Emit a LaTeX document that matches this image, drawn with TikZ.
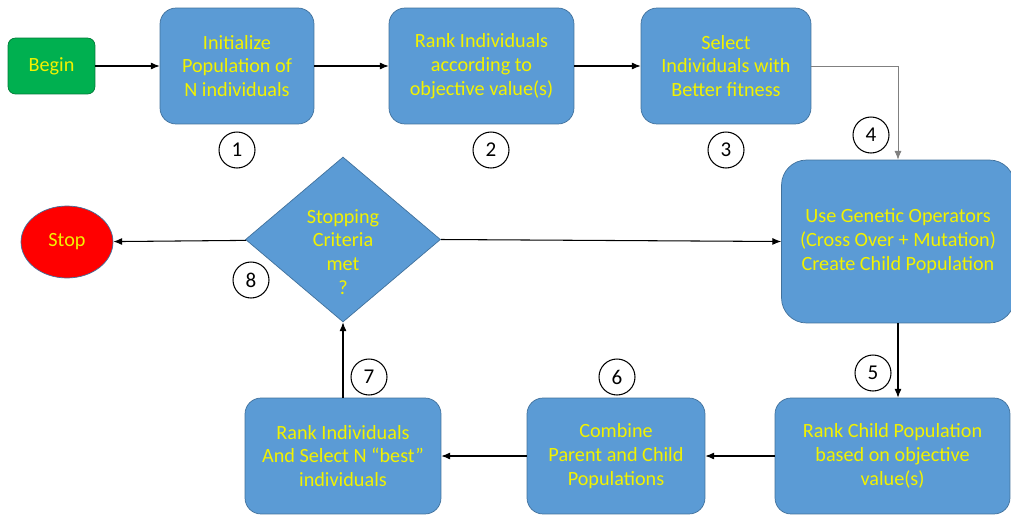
\documentclass[tikz,border=0pt]{standalone}
\usepackage{fontspec}
\setmainfont{Carlito}
\usetikzlibrary{shapes.geometric,arrows.meta}
\definecolor{boxblue}{HTML}{5B9BD5}
\definecolor{edgeblue}{HTML}{41719C}
\definecolor{startgreen}{HTML}{00B050}
\definecolor{txtyellow}{HTML}{F2F200}
\tikzset{
    stepbox/.style={draw=edgeblue, fill=boxblue, rounded corners=0.32cm, align=center,
        text=txtyellow, inner sep=0pt, font=\fontsize{11.5}{13.6}\selectfont},
    numcircle/.style={draw, line width=0.6pt, circle, minimum size=0.72cm, inner sep=0pt,
        font=\fontsize{12}{13}\selectfont},
    flow/.style={-{Latex[length=5pt,width=4pt]}, semithick}
}

\begin{document}
\begin{tikzpicture}[x=0.02cm, y=-0.02cm]
    \clip (0,0) rectangle (1011,514);
    \useasboundingbox (0,0) rectangle (1011,514);

    \node[stepbox, fill=startgreen, draw=startgreen!70!black, rounded corners=0.15cm,
        minimum width=1.74cm, minimum height=1.12cm] (begin) at (51.5,66) {Begin};
    \node[stepbox, minimum width=3.08cm, minimum height=2.32cm] (init) at (237,66)
        {Initialize\\Population of\\N individuals};
    \node[stepbox, minimum width=3.70cm, minimum height=2.32cm] (rank) at (481.5,66)
        {Rank Individuals\\according to\\objective value(s)};
    \node[stepbox, minimum width=3.40cm, minimum height=2.32cm] (select) at (726,66)
        {Select\\Individuals with\\Better fitness};
    \node[stepbox, rounded corners=0.5cm, minimum width=4.66cm, minimum height=3.26cm] (genop) at (898,241.5)
        {Use Genetic Operators\\(Cross Over + Mutation)\\Create Child Population};
    \node[stepbox, minimum width=4.70cm, minimum height=2.32cm] (rankchild) at (892.5,456)
        {Rank Child Population\\based on objective\\value(s)};
    \node[stepbox, minimum width=3.56cm, minimum height=2.32cm] (combine) at (616,456)
        {Combine\\Parent and Child\\Populations};
    \node[stepbox, minimum width=3.92cm, minimum height=2.32cm] (rankbest) at (343,456)
        {Rank Individuals\\And Select N ``best''\\individuals};
    \node[stepbox, diamond, rounded corners=0pt, minimum width=3.90cm, minimum height=3.30cm,
        aspect=1.18] (check) at (343,239.5) {};
    \node[stepbox, draw=none, fill=none] (checktext) at (343,252) {Stopping\\Criteria\\met\\?};
    \node[stepbox, ellipse, fill=red, rounded corners=0pt, minimum width=1.84cm,
        minimum height=1.44cm] (stop) at (67,242) {Stop};

    \node[numcircle] (n1) at (237,150) {1};
    \node[numcircle] (n2) at (491,150) {2};
    \node[numcircle] (n3) at (726,150) {3};
    \node[numcircle] (n4) at (871,135) {4};
    \node[numcircle] (n5) at (873,373) {5};
    \node[numcircle] (n6) at (617,377) {6};
    \node[numcircle] (n7) at (369,377) {7};
    \node[numcircle] (n8) at (251,280) {8};

    \draw[flow] (begin) -- (init);
    \draw[flow] (init) -- (rank);
    \draw[flow] (rank) -- (select);
    \draw[flow, draw=gray, thin] (select.east) -| (genop.north);
    \draw[flow] (genop.south) -- (genop.south |- rankchild.north);
    \draw[flow] (rankchild) -- (combine);
    \draw[flow] (combine) -- (rankbest);
    \draw[flow] (rankbest) -- (check);
    \draw[flow] (check) -- (stop);
    \draw[flow] (check.east) -- (genop.west);

\end{tikzpicture}
\end{document}
